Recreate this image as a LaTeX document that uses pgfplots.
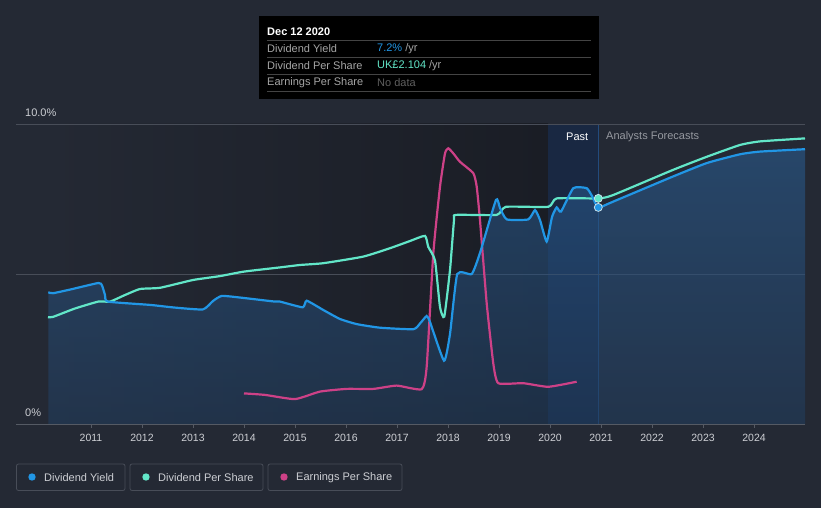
\documentclass[border=0pt]{standalone}
\usepackage{pgfplots}
\pgfplotsset{compat=1.18}
\usepackage{pgfplotstable}
\usepackage{fontspec}
\setmainfont{Liberation Sans}
\definecolor{bgc}{RGB}{36,41,52}
\definecolor{pastdark}{RGB}{26,29,37}
\definecolor{band}{RGB}{25,40,66}
\definecolor{gridc}{RGB}{72,77,88}
\definecolor{axc}{RGB}{85,90,100}
\definecolor{txt}{RGB}{205,207,212}
\definecolor{dimtxt}{RGB}{150,153,160}
\definecolor{blueL}{RGB}{33,150,229}
\definecolor{tealL}{RGB}{98,230,200}
\definecolor{pinkL}{RGB}{205,65,135}
\definecolor{areaTop}{RGB}{42,95,150}
\definecolor{areaBot}{RGB}{34,62,95}
\definecolor{sepc}{RGB}{68,68,68}
\definecolor{ttlab}{RGB}{165,165,165}
\definecolor{bandline}{RGB}{35,75,125}
\definecolor{mkborder}{RGB}{200,225,235}
\definecolor{nodata}{RGB}{95,95,95}

\pgfplotstableread{
x y
2010.163 4.39
2010.255 4.36
2010.588 4.48
2011.143 4.70
2011.216 4.62
2011.275 4.30
2011.333 4.08
2012.157 3.97
2012.647 3.88
2013.196 3.82
2013.392 4.10
2013.569 4.27
2014.000 4.20
2014.608 4.08
2014.706 4.08
2015.151 3.89
2015.229 4.11
2015.555 3.80
2015.882 3.50
2016.210 3.33
2016.667 3.21
2017.320 3.16
2017.451 3.35
2017.582 3.60
2017.647 3.40
2017.922 2.11
2018.039 3.00
2018.182 5.00
2018.465 5.00
2018.627 5.70
2018.941 7.47
2019.020 7.20
2019.151 6.82
2019.574 6.82
2019.706 7.13
2019.804 6.80
2019.935 6.08
2020.039 6.90
2020.131 7.22
2020.216 7.08
2020.457 7.86
2020.719 7.86
2020.824 7.60
2020.947 7.22
2021.235 7.41
2022.412 8.25
2023.078 8.70
2023.725 8.99
2024.118 9.08
2025.000 9.16
}\yieldtab

\pgfplotstableread{
x y
2010.157 3.56
2010.255 3.57
2010.686 3.85
2011.143 4.08
2011.373 4.08
2011.667 4.30
2011.961 4.50
2012.353 4.54
2013.000 4.80
2013.529 4.93
2014.000 5.08
2014.706 5.22
2015.098 5.30
2015.555 5.36
2016.339 5.58
2016.863 5.86
2017.255 6.10
2017.549 6.27
2017.614 5.90
2017.745 5.45
2017.843 3.90
2017.927 3.58
2018.039 5.13
2018.118 6.80
2018.157 6.97
2018.955 6.97
2019.137 7.24
2019.967 7.24
2020.131 7.52
2020.947 7.52
2021.235 7.63
2022.412 8.47
2023.078 8.91
2023.725 9.30
2024.118 9.42
2025.000 9.52
}\dpstab

\pgfplotstableread{
x y
2014.000 1.02
2014.412 0.97
2015.000 0.83
2015.490 1.08
2016.014 1.17
2016.535 1.17
2016.994 1.28
2017.484 1.16
2017.582 1.91
2017.712 5.69
2017.843 7.91
2017.941 9.02
2018.006 9.19
2018.104 9.02
2018.235 8.74
2018.496 8.36
2018.563 7.91
2018.627 6.80
2018.759 4.02
2018.888 2.02
2018.986 1.36
2019.476 1.36
2019.967 1.24
2020.523 1.41
}\epstab

\begin{document}
\begin{tikzpicture}[x=1pt,y=1pt,font=\fontsize{11}{13}\selectfont]
% backgrounds
\fill[bgc] (0,0) rectangle (821,508);
\shade[left color=bgc,right color=pastdark] (48,84) rectangle (548,384);
\fill[band] (548,84) rectangle (598,384);
\draw[bandline,line width=0.8pt] (598,84) -- (598,384);
% grid
\draw[gridc,line width=0.8pt] (16,384) -- (805,384);
\draw[gridc,line width=0.8pt] (16,234) -- (805,234);
\node[anchor=west,text=txt,inner sep=0pt] at (25,395) {10.0\%};
\node[anchor=west,text=txt,inner sep=0pt] at (25,95) {0\%};

\begin{axis}[at={(48pt,84pt)},anchor=south west,scale only axis,
  width=757pt,height=300pt,
  xmin=2010.157,xmax=2025,ymin=0,ymax=10,
  axis line style={draw=none},
  ytick=\empty,
  xtick={2011,2012,2013,2014,2015,2016,2017,2018,2019,2020,2021,2022,2023,2024},
  xticklabels={2011,2012,2013,2014,2015,2016,2017,2018,2019,2020,2021,2022,2023,2024},
  xtick pos=bottom,
  tick align=outside,
  major tick length=4pt,
  tick style={draw=axc,line width=0.8pt},
  x tick label style={font=\fontsize{10.5}{12}\selectfont,text=txt,yshift=-2.5pt},
  clip=false]
\addplot[draw=none,top color=areaTop,bottom color=areaBot,fill opacity=0.55,smooth,tension=0.3] table[x=x,y=y]{\yieldtab} \closedcycle;
\addplot[pinkL,line width=2.2pt,smooth,tension=0.3] table[x=x,y=y]{\epstab};
\addplot[tealL,line width=2.2pt,smooth,tension=0.3] table[x=x,y=y]{\dpstab};
\addplot[blueL,line width=2.2pt,smooth,tension=0.3] table[x=x,y=y]{\yieldtab};
\addplot[only marks,mark=*,mark size=4pt,mark options={fill=tealL,draw=mkborder,line width=0.8pt}] coordinates {(2020.947,7.52)};
\addplot[only marks,mark=*,mark size=4pt,mark options={fill=blueL,draw=mkborder,line width=0.8pt}] coordinates {(2020.947,7.22)};
\end{axis}
% axis baseline
\draw[axc,line width=0.8pt] (16,84) -- (805,84);
% Past / forecasts
\node[anchor=west,text=white,inner sep=0pt] at (566,371.5) {Past};
\node[anchor=west,text=dimtxt,inner sep=0pt] at (606,371.5) {Analysts Forecasts};
% tooltip
\fill[black] (259,409) rectangle (599,492);
\foreach \yy in {467.3,450.3,433.7,417} {\draw[sepc,line width=0.8pt] (267,\yy) -- (591,\yy);}
\node[anchor=west,text=white,inner sep=0pt,font=\fontsize{11}{13}\selectfont\bfseries] at (267,476.5) {Dec 12 2020};
\node[anchor=west,text=ttlab,inner sep=0pt] at (267,459) {Dividend Yield};
\node[anchor=west,text=ttlab,inner sep=0pt] at (267,442) {Dividend Per Share};
\node[anchor=west,text=ttlab,inner sep=0pt] at (267,425) {Earnings Per Share};
\node[anchor=west,inner sep=0pt] at (377,459) {\textcolor{blueL}{7.2\%}~\textcolor{ttlab}{/yr}};
\node[anchor=west,inner sep=0pt] at (377,442) {\textcolor{tealL}{UK£2.104}~\textcolor{ttlab}{/yr}};
\node[anchor=west,text=nodata,inner sep=0pt] at (377,425) {No data};
% legend
\draw[gridc,line width=0.8pt,rounded corners=2pt] (16.5,17.5) rectangle (125,44);
\draw[gridc,line width=0.8pt,rounded corners=2pt] (130,17.5) rectangle (263,44);
\draw[gridc,line width=0.8pt,rounded corners=2pt] (268,17.5) rectangle (402,44);
\fill[blueL] (32,31) circle (3.7);
\fill[tealL] (146,31) circle (3.7);
\fill[pinkL] (284,31) circle (3.7);
\node[anchor=west,text=txt,inner sep=0pt] at (44,30.5) {Dividend Yield};
\node[anchor=west,text=txt,inner sep=0pt] at (158,30.5) {Dividend Per Share};
\node[anchor=west,text=txt,inner sep=0pt] at (296,30.5) {Earnings Per Share};
\end{tikzpicture}
\end{document}
